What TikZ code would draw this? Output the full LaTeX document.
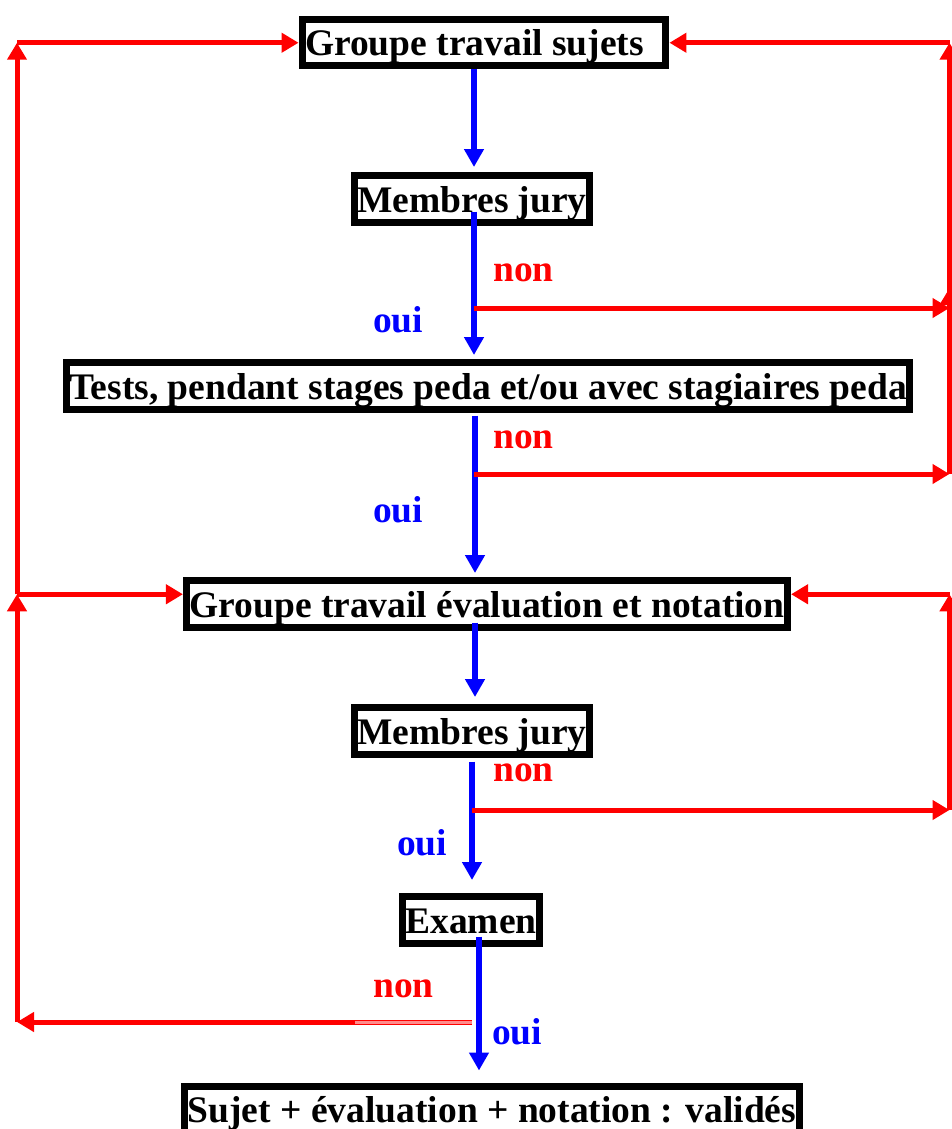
\documentclass[tikz,border=0pt]{standalone}
\usepackage{fontspec}
\setmainfont{Liberation Serif}
\usepackage{tikz}
\usetikzlibrary{arrows.meta,calc}

\newcommand{\bigfnt}{\fontsize{37.5}{41}\selectfont\bfseries}

\begin{document}
\begin{tikzpicture}[x=1pt, y=-1pt,
  bx/.style={draw=black, line width=7pt, inner xsep=3pt, inner ysep=0pt,
             text height=36.5pt, text depth=10pt, anchor=base, font=\bigfnt},
  ouiarr/.style={blue, line width=5.5pt, -{Triangle[length=18pt,width=19pt]}},
  nonarr/.style={red, line width=5pt, -{Triangle[length=17pt,width=19pt]}},
  ouitxt/.style={blue, anchor=base west, inner sep=0pt, font=\bigfnt},
  nontxt/.style={red, anchor=base west, inner sep=0pt, font=\bigfnt}
]
  \useasboundingbox (0,0) rectangle (952,1129);

  % boxes
  \node[bx] (gts)   at (484,56)   {Groupe travail sujets\hspace*{19pt}};
  \node[bx] (mj1)   at (472,212)  {Membres jury};
  \node[bx] (tests) at (488,399)  {Tests, pendant stages peda et/ou avec stagiaires peda};
  \node[bx] (gte)   at (487,617)  {Groupe travail évaluation et notation};
  \node[bx] (mj2)   at (472,744)  {Membres jury};
  \node[bx] (exam)  at (471,933)  {Examen};
  \node[bx] (final) at (492,1122.5) {Sujet + évaluation + notation : validés};

  % columns and branch points
  \coordinate (s1) at (474,0);
  \coordinate (s2) at (475,0);
  \coordinate (s4) at (472,0);
  \coordinate (s5) at (479,0);
  \coordinate (R)  at (949.5,0);
  \coordinate (L)  at (17,0);
  \coordinate (n1) at (474,308);
  \coordinate (n2) at (474,474);
  \coordinate (n3) at (472,810);
  \coordinate (n4) at (472,1022);
  \coordinate (ge) at ($(gte.east)+(0,-9.5)$);
  \coordinate (gw) at ($(gte.west)+(0,-9.5)$);

  % oui
  \draw[ouiarr, shorten >=5pt] (gts.south -| s1) -- (mj1.north -| s1);
  \draw[ouiarr, shorten <=-14pt, shorten >=4pt] (mj1.south -| s1) -- (tests.north -| s1);
  \draw[ouiarr, shorten <=3pt, shorten >=4pt] (tests.south -| s2) -- (gte.north -| s2);
  \draw[ouiarr, shorten <=-8pt, shorten >=7pt] (gte.south -| s2) -- (mj2.north -| s2);
  \draw[ouiarr, shorten <=4pt, shorten >=13pt] (mj2.south -| s4) -- (exam.north -| s4);
  \draw[ouiarr, shorten <=-10pt, shorten >=12pt] (exam.south -| s5) -- (final.north -| s5);

  % non, right side
  \draw[nonarr] (n1) -- (n1 -| R);
  \draw[nonarr] (n2) -- (n2 -| R);
  \draw[nonarr, shorten >=-20pt] (n2 -| R) -- (n1 -| R);
  \draw[nonarr] (n1 -| R) -- (gts.east -| R);
  \draw[nonarr] (gts.east -| R) -- (gts.east);
  \draw[nonarr] (n3) -- (n3 -| R);
  \draw[nonarr] (n3 -| R) -- (ge -| R);
  \draw[nonarr] (ge -| R) -- (ge);

  % non, left side
  \draw[nonarr] (n4) -- (n4 -| L);
  \draw[red!45, line width=3pt] (n4) -- ++(-117,0);
  \draw[nonarr] (n4 -| L) -- (gw -| L);
  \draw[nonarr] (gw -| L) -- (gw);
  \draw[nonarr] (gw -| L) -- (gts.west -| L);
  \draw[nonarr] (gts.west -| L) -- (gts.west);

  % labels
  \node[nontxt] (non1) at (493,281)  {non};
  \node[ouitxt] (oui1) at (373,332)  {oui};
  \node[nontxt] (non2) at (493,448)  {non};
  \node[ouitxt] (oui2) at (373,522)  {oui};
  \node[nontxt] (non3) at (493,781)  {non};
  \node[ouitxt] (oui3) at (397,855)  {oui};
  \node[nontxt] (non4) at (373,997)  {non};
  \node[ouitxt] (oui4) at (492,1044) {oui};
\end{tikzpicture}
\end{document}
